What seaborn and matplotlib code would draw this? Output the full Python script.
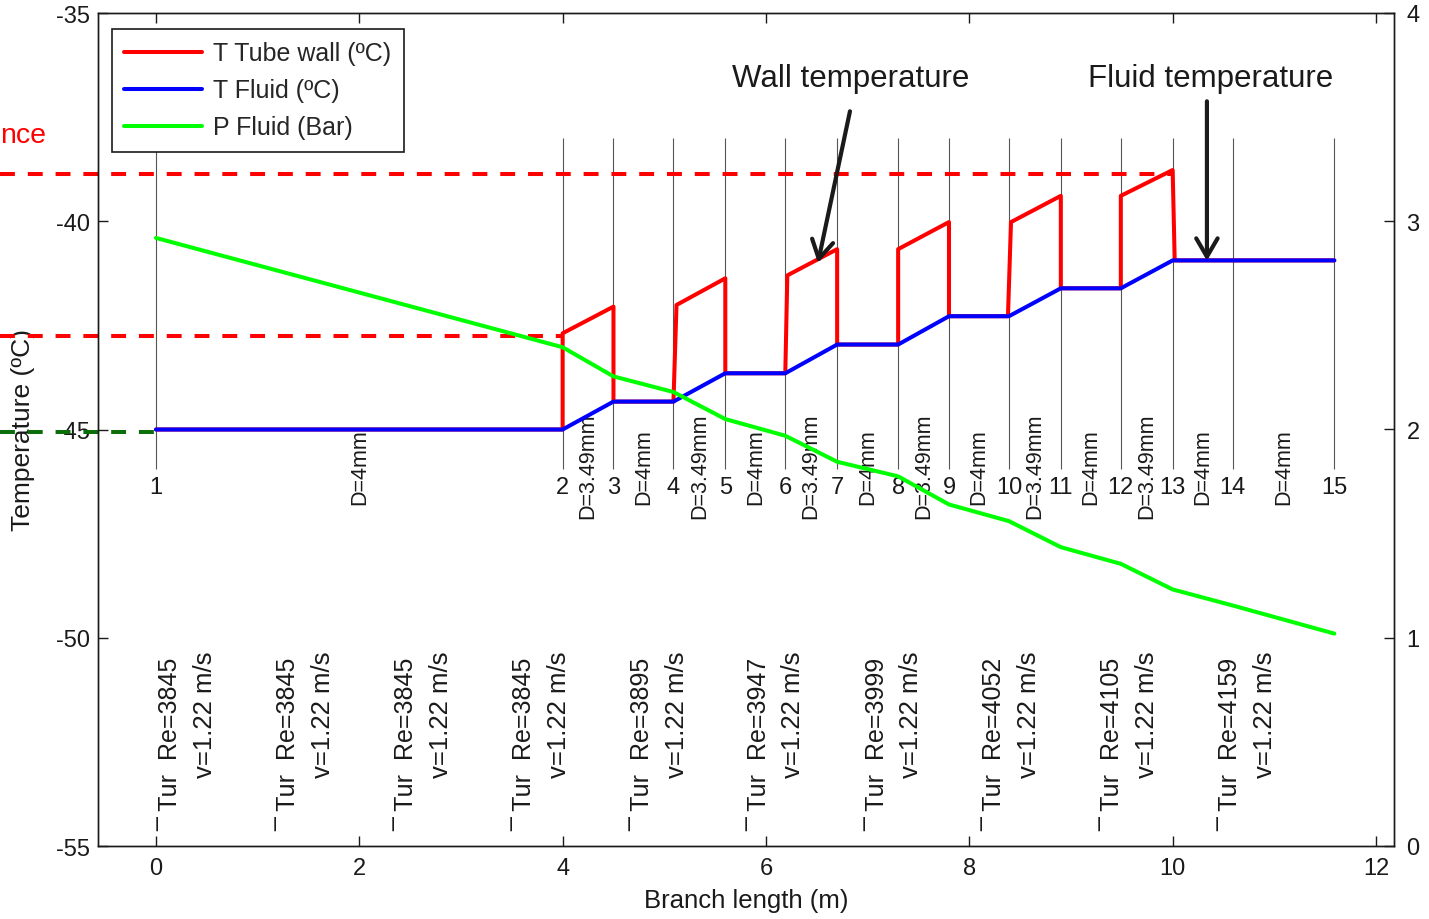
import numpy as np
import pandas as pd
import matplotlib
matplotlib.use("Agg")
import matplotlib.pyplot as plt
import seaborn as sns

# ---------------- data ----------------
node_x = [0.0, 4.0, 4.5, 5.09, 5.6, 6.19, 6.7, 7.3, 7.8, 8.39, 8.9, 9.49, 10.0, 10.59, 11.59]
node_labels = [str(i) for i in range(1, 16)]
seg_labels = ["D=4mm", "D=3.49mm", "D=4mm", "D=3.49mm", "D=4mm", "D=3.49mm", "D=4mm",
              "D=3.49mm", "D=4mm", "D=3.49mm", "D=4mm", "D=3.49mm", "D=4mm", "D=4mm"]

wall_x = [0.0, 4.0, 4.0, 4.5, 4.5, 5.09, 5.12, 5.6, 5.6, 6.19, 6.21, 6.7, 6.7, 7.3, 7.3,
          7.8, 7.8, 8.38, 8.41, 8.9, 8.9, 9.49, 9.49, 10.0, 10.02, 11.59]
wall_T = [-45.0, -45.0, -42.69, -42.05, -44.33, -44.33, -42.01, -41.37, -43.65, -43.65,
          -41.30, -40.67, -42.96, -42.96, -40.67, -40.02, -42.28, -42.28, -40.02, -39.39,
          -41.61, -41.61, -39.39, -38.77, -40.94, -40.94]

fluid_x = [0.0, 4.0, 4.5, 5.09, 5.6, 6.19, 6.7, 7.3, 7.8, 8.39, 8.9, 9.49, 10.0, 11.59]
fluid_T = [-45.0, -45.0, -44.33, -44.33, -43.65, -43.65, -42.96, -42.96, -42.28, -42.28,
           -41.61, -41.61, -40.94, -40.94]

press_x = node_x
press_bar = [2.92, 2.395, 2.255, 2.18, 2.05, 1.97, 1.845, 1.775, 1.64, 1.56, 1.435,
             1.355, 1.232, 1.155, 1.02]

ref_T = [-38.86, -42.75, -45.06]
ref_end = [10.0, 4.0, 0.0]
ref_colors = ["#ff0000", "#ff0000", "#0b6e0b"]

block_x = [0.14, 1.30, 2.46, 3.62, 4.78, 5.93, 7.09, 8.25, 9.41, 10.57]
re_values = [3845, 3845, 3845, 3845, 3895, 3947, 3999, 4052, 4105, 4159]
vel_values = [1.22] * 10

x_ticks = [0, 2, 4, 6, 8, 10, 12]
t_ticks = [-55, -50, -45, -40, -35]
p_ticks = [0, 1, 2, 3, 4]

# ---------------- style ----------------
sns.set_theme(style="white")
plt.rcParams["font.family"] = ["Liberation Sans", "DejaVu Sans"]
plt.rcParams["axes.unicode_minus"] = False

W, H = 1429, 920
fig = plt.figure(figsize=(W / 100, H / 100), dpi=100)
fig.patch.set_facecolor("white")
ax = fig.add_axes([98 / W, 73 / H, 1296 / W, 833 / H])
ax.set_facecolor("none")
ax2 = ax.twinx()

ax.set_xlim(-0.57, 12.177)
ax.set_ylim(-55, -35)
ax2.set_ylim(0, 4)

# node lines
ax.vlines(node_x, -45.95, -38.0, colors="#555555", lw=0.8, zorder=1)

# reference dashed lines extending to the figure edge
x_fig0 = ax.transData.inverted().transform((0, 0))[0]
for t, e, c in zip(ref_T, ref_end, ref_colors):
    ax.plot([x_fig0, e], [t, t], ls=(0, (3.7, 3.2)), color=c, lw=2.9,
            clip_on=False, zorder=2)

df_wall = pd.DataFrame({"x": wall_x, "T": wall_T})
df_fluid = pd.DataFrame({"x": fluid_x, "T": fluid_T})
df_p = pd.DataFrame({"x": press_x, "P": press_bar})

sns.lineplot(data=df_wall, x="x", y="T", sort=False, estimator=None, color="#ff0000",
             lw=2.9, ax=ax, label="T Tube wall (ºC)", zorder=3)
sns.lineplot(data=df_fluid, x="x", y="T", sort=False, estimator=None, color="#0000ff",
             lw=2.9, ax=ax, label="T Fluid (ºC)", zorder=4)
sns.lineplot(data=df_p, x="x", y="P", sort=False, estimator=None, color="#00ff00",
             lw=2.9, ax=ax2, label="P Fluid (Bar)", zorder=3)

# node numbers and diameter labels
for x, lab in zip(node_x, node_labels):
    ax.text(x, -46.37, lab, ha="center", va="center", fontsize=17, color="k")
for i, lab in enumerate(seg_labels):
    mid = (node_x[i] + node_x[i + 1]) / 2
    ax.text(mid, -45.87, lab, rotation=90, ha="center", va="center", fontsize=15.5, color="k")

# flow regime texts
for bx, re, v in zip(block_x, re_values, vel_values):
    ax.text(bx, -50.45, f"¯ Tur  Re={re}", rotation=90, ha="center", va="top",
            fontsize=18, color="k")
    ax.text(bx + 0.34, -50.3, f"v={v:.2f} m/s", rotation=90, ha="center", va="top",
            fontsize=18.5, color="k")

# arrow annotations
ax.text(6.83, -36.75, "Wall temperature", ha="center", va="baseline", fontsize=22.5, color="k")
ax.text(10.37, -36.75, "Fluid temperature", ha="center", va="baseline", fontsize=22.5, color="k")
arrow_kw = dict(arrowstyle="->,head_length=0.6,head_width=0.35", lw=3, color="k",
                shrinkA=0, shrinkB=0, mutation_scale=22)
ax.annotate("", xy=(6.511, -41.0), xytext=(6.826, -37.36), arrowprops=arrow_kw, zorder=6)
ax.annotate("", xy=(10.337, -40.95), xytext=(10.337, -37.12), arrowprops=arrow_kw, zorder=6)

# clipped red text at the left edge
fig.text(0.0, (H - 143) / H, "nce", color="#ff0000", fontsize=20.5, ha="left", va="baseline")

# axes, ticks
ax.set_xticks(x_ticks)
ax.set_yticks(t_ticks)
ax2.set_yticks(p_ticks)
ax.set_xticklabels([str(t) for t in x_ticks])
ax.set_yticklabels([str(t) for t in t_ticks])
ax2.set_yticklabels([str(t) for t in p_ticks])
ax.tick_params(axis="x", direction="in", top=True, bottom=True, length=7, width=1,
               labelsize=17, pad=8, color="k", labelcolor="k")
ax.tick_params(axis="y", direction="in", left=True, right=False, length=7, width=1,
               labelsize=17, pad=6, color="k", labelcolor="k")
ax2.tick_params(axis="y", direction="in", right=True, left=False, length=7, width=1,
                labelsize=17, pad=9, color="k", labelcolor="k")
for a in (ax, ax2):
    for s in a.spines.values():
        s.set_color("k")
        s.set_linewidth(1.0)
        s.set_visible(True)

ax.set_xlabel("Branch length (m)", fontsize=18.5, color="k", va="top")
ax.xaxis.set_label_coords(0.5, -0.05)
ax.set_ylabel("Temperature (ºC)", fontsize=19, color="k")
ax.yaxis.set_label_coords(-0.0486, 0.5)
ax2.set_ylabel("")

# legend
h1, l1 = ax.get_legend_handles_labels()
h2, l2 = ax2.get_legend_handles_labels()
if ax.get_legend() is not None:
    ax.get_legend().remove()
if ax2.get_legend() is not None:
    ax2.get_legend().remove()
leg = ax2.legend(h1 + h2, l1 + l2, loc="upper left", bbox_to_anchor=(0.0108, 0.981),
                 borderaxespad=0, fontsize=18, frameon=True, fancybox=False, framealpha=1,
                 edgecolor="k", borderpad=0.5, labelspacing=0.52, handlelength=3.1,
                 handletextpad=0.45)
leg.get_frame().set_linewidth(1.2)
for ln in leg.get_lines():
    ln.set_linewidth(2.9)

fig.savefig("out.png", dpi=100)
